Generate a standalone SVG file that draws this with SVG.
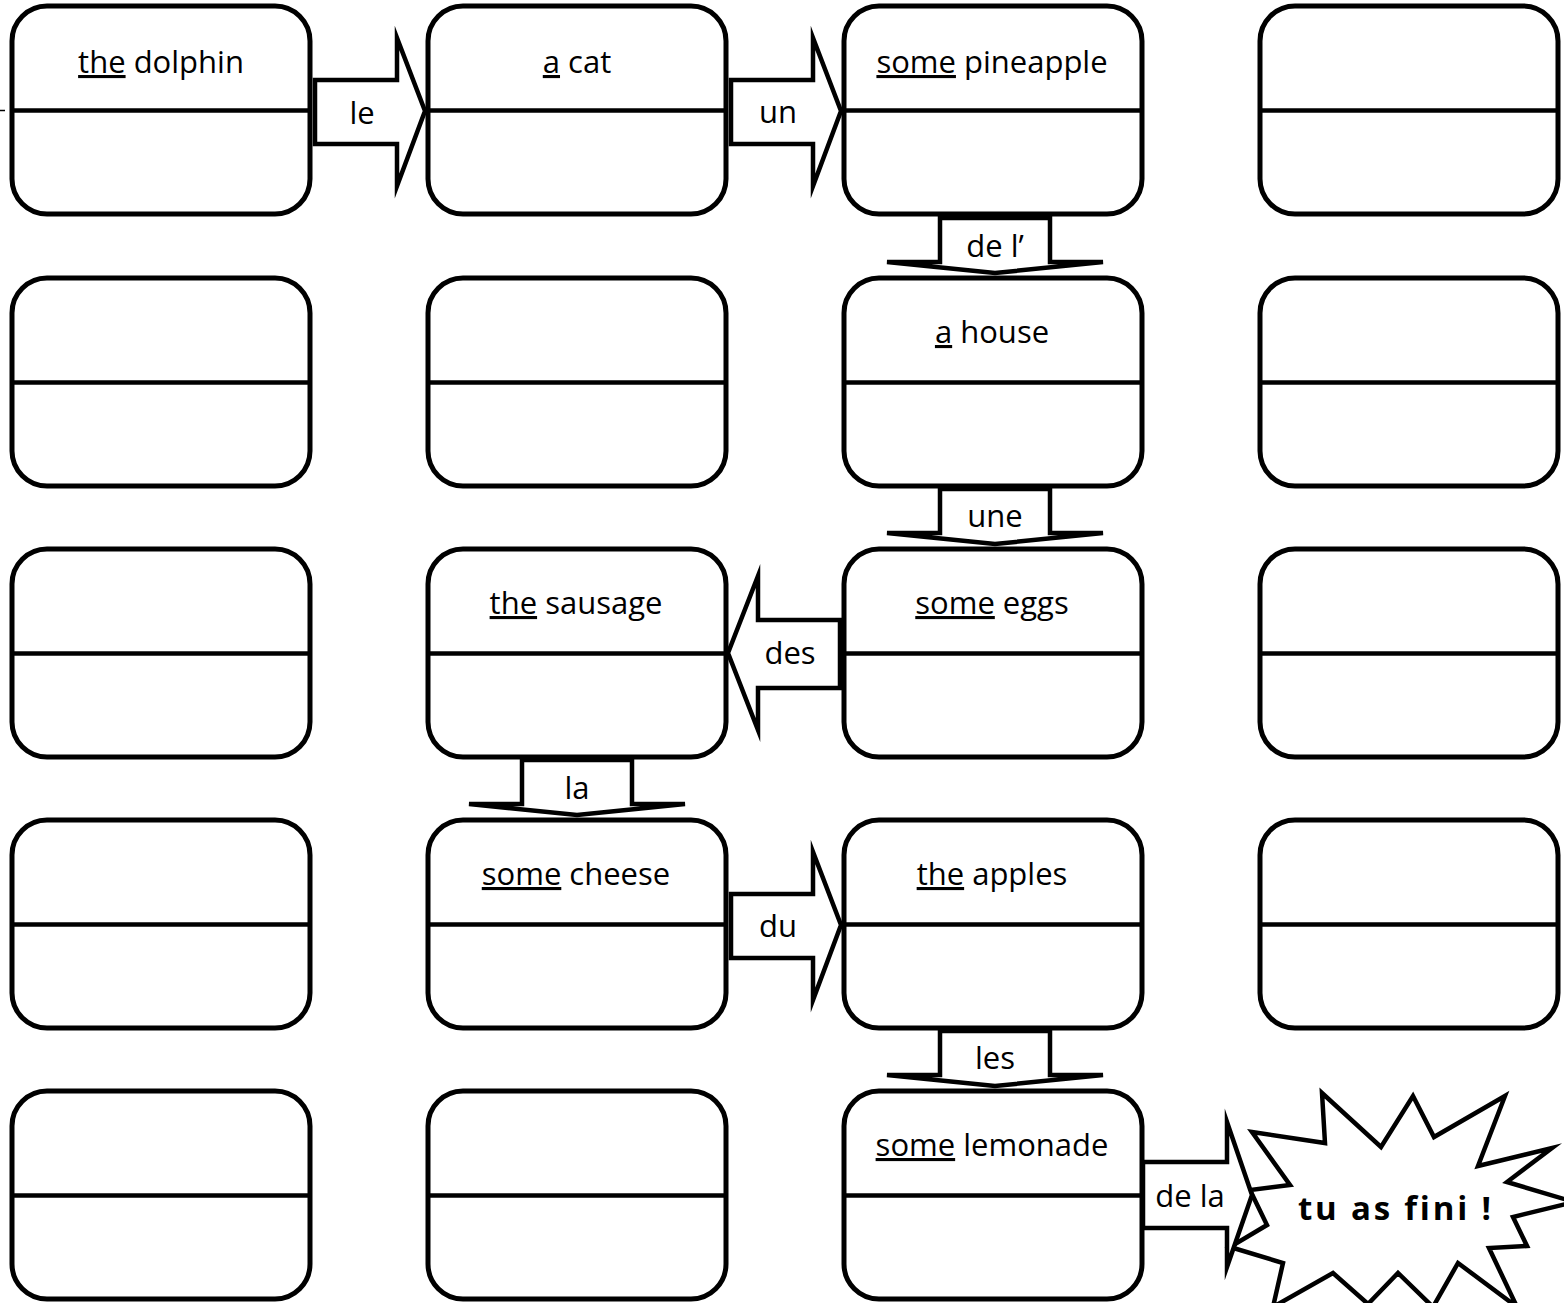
<svg xmlns="http://www.w3.org/2000/svg" width="1564" height="1303" viewBox="0 0 1564 1303">
<style>
  .box{fill:#fff;stroke:#000;stroke-width:5}
  .div{stroke:#000;stroke-width:4.5}
  .arr{fill:#fff;stroke:#000;stroke-width:4.5;stroke-linejoin:miter;stroke-miterlimit:10}
  .t{font-family:"Open Sans","DejaVu Sans",sans-serif;font-size:31px;fill:#000;text-anchor:middle}
  .u{text-decoration:underline}
  .b{font-family:"Open Sans","DejaVu Sans",sans-serif;font-size:33px;font-weight:bold;fill:#000;letter-spacing:2.8px}
</style>
<defs>
  <g id="card">
    <rect class="box" x="0" y="0" width="298" height="208" rx="35" ry="35"/>
    <line class="div" x1="0" y1="104.5" x2="298" y2="104.5"/>
  </g>
</defs>
<rect width="1564" height="1303" fill="#fff"/>
<line x1="0" y1="110.5" x2="5" y2="110.5" stroke="#000" stroke-width="1.5"/>

<g id="n-r1c1" transform="translate(12,6)"><use href="#card"/><text class="t" x="149" y="67"><tspan class="u">the</tspan> dolphin</text></g>
<g id="n-r1c2" transform="translate(428,6)"><use href="#card"/><text class="t" x="149" y="67"><tspan class="u">a</tspan> cat</text></g>
<g id="n-r1c3" transform="translate(844,6)"><use href="#card"/><text class="t" x="148" y="67"><tspan class="u">some</tspan> pineapple</text></g>
<g id="n-r1c4" transform="translate(1260,6)"><use href="#card"/></g>

<g id="n-r2c1" transform="translate(12,278)"><use href="#card"/></g>
<g id="n-r2c2" transform="translate(428,278)"><use href="#card"/></g>
<g id="n-r2c3" transform="translate(844,278)"><use href="#card"/><text class="t" x="148" y="65"><tspan class="u">a</tspan> house</text></g>
<g id="n-r2c4" transform="translate(1260,278)"><use href="#card"/></g>

<g id="n-r3c1" transform="translate(12,549)"><use href="#card"/></g>
<g id="n-r3c2" transform="translate(428,549)"><use href="#card"/><text class="t" x="148" y="65"><tspan class="u">the</tspan> sausage</text></g>
<g id="n-r3c3" transform="translate(844,549)"><use href="#card"/><text class="t" x="148" y="65"><tspan class="u">some</tspan> eggs</text></g>
<g id="n-r3c4" transform="translate(1260,549)"><use href="#card"/></g>

<g id="n-r4c1" transform="translate(12,820)"><use href="#card"/></g>
<g id="n-r4c2" transform="translate(428,820)"><use href="#card"/><text class="t" x="148" y="65"><tspan class="u">some</tspan> cheese</text></g>
<g id="n-r4c3" transform="translate(844,820)"><use href="#card"/><text class="t" x="148" y="65"><tspan class="u">the</tspan> apples</text></g>
<g id="n-r4c4" transform="translate(1260,820)"><use href="#card"/></g>

<g id="n-r5c1" transform="translate(12,1091)"><use href="#card"/></g>
<g id="n-r5c2" transform="translate(428,1091)"><use href="#card"/></g>
<g id="n-r5c3" transform="translate(844,1091)"><use href="#card"/><text class="t" x="148" y="65"><tspan class="u">some</tspan> lemonade</text></g>

<g id="n-finish">
  <polygon class="arr" points="1252,1132 1325,1143 1322,1093 1381,1147 1413,1096 1434,1137 1505,1096 1478,1166 1552,1148 1507,1182 1574,1202 1513,1217 1527,1246 1489,1248 1517,1307 1458,1263 1433,1307 1398,1273 1368,1304 1333,1273 1273,1307 1283,1263 1230,1247 1267,1225 1250,1190 1290,1185"/>
  <text class="b" x="1298" y="1220">tu as fini !</text>
</g>

<g id="connectors">
  <polygon class="arr" points="315,80 397,80 397,38 425,111 397,186 397,144 315,144"/>
  <text class="t" x="362" y="124">le</text>
  <polygon class="arr" points="731,80 813,80 813,38 841,111 813,186 813,144 731,144"/>
  <text class="t" x="778" y="123">un</text>

  <polygon class="arr" points="940,218 1050,218 1050,262 1103,262 995,273 887,262 940,262"/>
  <text class="t" x="995" y="257">de l’</text>
  <polygon class="arr" points="940,489 1050,489 1050,533 1103,533 995,544 887,533 940,533"/>
  <text class="t" x="995" y="527">une</text>

  <polygon class="arr" points="840,620 758,620 758,576 728,653 758,730 758,688 840,688"/>
  <text class="t" x="790" y="664">des</text>

  <polygon class="arr" points="522,760 632,760 632,804 685,804 577,815 469,804 522,804"/>
  <text class="t" x="577" y="799">la</text>

  <polygon class="arr" points="731,894 813,894 813,852 841,925 813,1000 813,958 731,958"/>
  <text class="t" x="778" y="937">du</text>

  <polygon class="arr" points="940,1031 1050,1031 1050,1075 1103,1075 995,1086 887,1075 940,1075"/>
  <text class="t" x="995" y="1069">les</text>

  <polygon class="arr" points="1143,1162 1227,1162 1227,1122 1252,1195 1227,1267 1227,1228 1143,1228"/>
  <text class="t" x="1190" y="1207">de la</text>
</g>
</svg>
